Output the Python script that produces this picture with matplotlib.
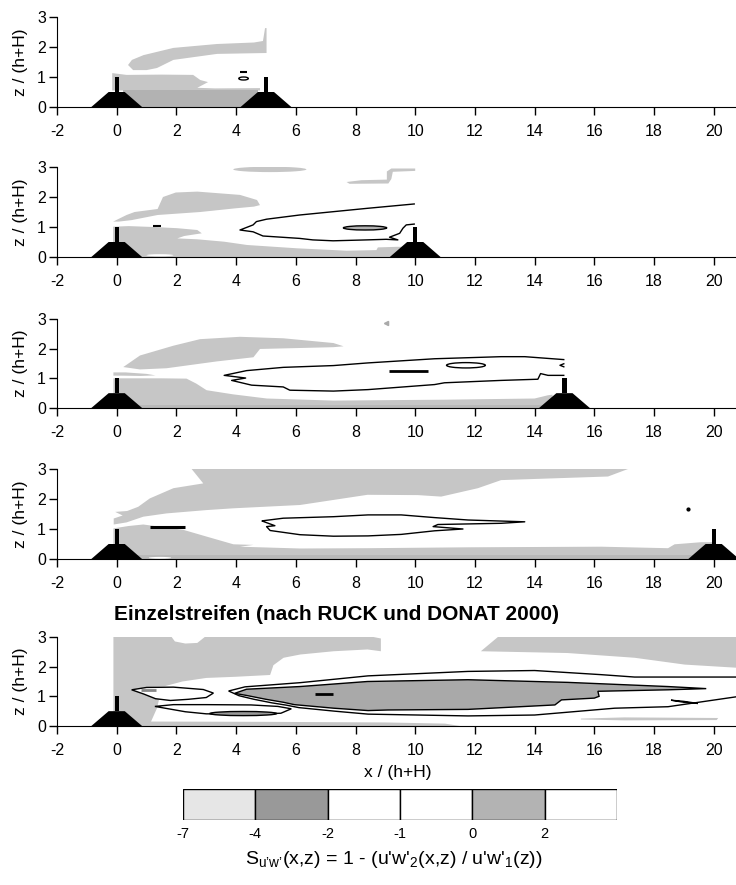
import matplotlib
matplotlib.use("Agg")
import matplotlib.pyplot as plt
from matplotlib.patches import Ellipse, Polygon

plt.rcParams['font.family'] = ['Liberation Sans', 'DejaVu Sans']
plt.rcParams['axes.unicode_minus'] = False
plt.rcParams['mathtext.fontset'] = 'custom'
plt.rcParams['mathtext.rm'] = 'Liberation Sans'

# ---------------- data ----------------
x_ticks = [-2, 0, 2, 4, 6, 8, 10, 12, 14, 16, 18, 20]
z_ticks = [0, 1, 2, 3]
building_pos = [[0, 5], [0, 10], [0, 15], [0, 20], [0]]
bld_x = [-0.85, -0.27, 0.27, 0.85]
bld_z = [0.0, 0.5, 0.5, 0.0]
pole_x = [-0.07, 0.07, 0.07, -0.07]
pole_z = [0.5, 0.5, 1.0, 1.0]

# Panel 1 (spacing 5)
p1_upper_x = [0.38, 0.51, 0.90, 1.90, 3.36, 4.60, 4.90, 4.97, 5.02, 5.02, 3.36, 1.90, 1.35, 1.00, 0.55]
p1_upper_z = [1.40, 1.57, 1.73, 1.97, 2.10, 2.15, 2.20, 2.63, 2.63, 1.80, 1.77, 1.57, 1.30, 1.23, 1.23]
p1_band_x = [-0.15, 0.33, 1.50, 2.56, 2.80, 3.06, 2.70, 3.30, 4.80, 4.80, -0.15]
p1_band_z = [1.13, 1.07, 1.08, 1.07, 0.90, 0.83, 0.64, 0.62, 0.63, 0.55, 0.55]
p1_dark_x = [0.20, 4.75, 4.75, 0.20]
p1_dark_z = [0.57, 0.57, 0.00, 0.00]
p1_loop = [4.25, 0.95, 0.32, 0.10]
p1_dash_x = [4.12, 4.35]
p1_dash_z = [1.17, 1.17]

# Panel 2 (spacing 10)
p2_upper_x = [-0.12, 0.33, 0.60, 1.37, 1.55, 1.98, 2.70, 4.13, 4.70, 4.80, 4.60, 3.95, 2.80, 1.37, 0.50, 0.07]
p2_upper_z = [1.18, 1.40, 1.50, 1.60, 2.00, 2.15, 2.18, 2.07, 1.90, 1.73, 1.68, 1.62, 1.50, 1.40, 1.23, 1.18]
p2_top_blob = [5.13, 2.92, 2.45, 0.18]
p2_topright_x = [7.70, 8.20, 9.05, 9.05, 9.20, 10.00, 10.00, 9.25, 9.20, 9.10, 7.80]
p2_topright_z = [2.50, 2.56, 2.58, 2.85, 2.95, 2.95, 2.87, 2.84, 2.60, 2.45, 2.44]
p2_band_x = [-0.12, 0.40, 1.23, 2.03, 2.70, 2.85, 2.26, 2.03, 2.70, 3.60, 4.37, 6.04, 7.70, 8.70, 8.75, 9.40, 10.0, 10.0, -0.12]
p2_band_z = [1.01, 1.03, 1.00, 0.96, 0.90, 0.79, 0.70, 0.62, 0.59, 0.51, 0.40, 0.29, 0.21, 0.23, 0.32, 0.34, 0.34, 0.00, 0.00]
p2_line_x = [9.99, 8.37, 7.25, 6.13, 5.02, 4.68, 4.57, 4.13, 4.57, 4.90, 6.13, 6.57, 7.25, 8.37, 9.03, 9.42, 9.14, 9.48, 9.59, 9.70, 9.99]
p2_line_z = [1.77, 1.62, 1.51, 1.40, 1.26, 1.18, 1.07, 0.90, 0.84, 0.70, 0.62, 0.57, 0.54, 0.57, 0.59, 0.57, 0.66, 0.79, 0.96, 1.07, 1.10]
p2_lens = [8.32, 0.97, 1.45, 0.14]
p2_dash_x = [1.20, 1.50]
p2_dash_z = [1.05, 1.05]
p2_white = [1.45, 0.06, 0.90, 0.07]

# Panel 3 (spacing 15)
p3_upper_x = [0.22, 0.78, 1.90, 2.79, 4.13, 5.58, 7.26, 7.60, 7.26, 4.80, 4.58, 3.35, 1.67, 0.78]
p3_upper_z = [1.38, 1.77, 2.10, 2.32, 2.40, 2.35, 2.19, 2.08, 2.05, 1.99, 1.71, 1.57, 1.34, 1.30]
p3_tongue_x = [-0.11, 0.30, 1.00, 1.30, 0.80, 0.20, -0.11]
p3_tongue_z = [1.20, 1.20, 1.15, 1.10, 1.08, 1.09, 1.09]
p3_band_x = [-0.11, 0.50, 1.50, 2.34, 2.67, 3.01, 3.90, 5.03, 7.26, 8.42, 11.0, 14.0, 14.45, 14.6, 14.6, -0.11]
p3_band_z = [1.00, 1.00, 1.00, 0.99, 0.82, 0.60, 0.46, 0.32, 0.25, 0.26, 0.28, 0.32, 0.43, 0.45, 0.00, 0.00]
p3_strip_x = [-0.11, 14.5, 14.5, -0.11]
p3_strip_z = [0.10, 0.10, 0.00, 0.00]
p3_line_x = [15.0, 13.67, 12.88, 10.65, 8.42, 7.26, 5.58, 4.35, 3.60, 4.32, 3.85, 4.52, 5.58, 5.80, 7.26, 8.42, 10.65, 10.98, 12.88, 14.11, 14.20, 14.45, 15.0]
p3_line_z = [1.63, 1.73, 1.73, 1.66, 1.52, 1.43, 1.37, 1.26, 1.10, 1.01, 0.93, 0.77, 0.71, 0.60, 0.57, 0.62, 0.79, 0.85, 0.93, 0.97, 1.16, 1.10, 1.10]
p3_loop = [11.7, 1.44, 1.30, 0.18]
p3_dash_x = [9.13, 10.42]
p3_dash_z = [1.24, 1.24]
p3_hook_x = [15.0, 14.85, 15.0]
p3_hook_z = [1.50, 1.44, 1.38]
p3_speck = [9.02, 2.88]

# Panel 4 (spacing 20)
p4_upper_x = [2.51, 17.13, 16.46, 12.88, 12.10, 10.87, 10.09, 8.40, 6.14, 3.91, 3.00, 1.67, 0.89, 0.33, -0.10, -0.10, 0.20, -0.05, 0.35, 0.72, 1.11, 1.90, 2.90]
p4_upper_z = [3.00, 3.00, 2.75, 2.63, 2.36, 2.08, 2.13, 2.14, 1.80, 1.69, 1.63, 1.52, 1.41, 1.22, 1.15, 1.35, 1.45, 1.57, 1.60, 1.74, 2.02, 2.36, 2.52]
p4_band_x = [-0.11, 0.40, 0.89, 2.24, 3.00, 3.91, 4.58, 4.13, 6.14, 8.40, 11.77, 16.24, 18.47, 18.69, 19.58, 20.0, 20.0, -0.11]
p4_band_z = [1.02, 1.10, 1.15, 0.97, 0.75, 0.49, 0.47, 0.41, 0.35, 0.36, 0.39, 0.41, 0.36, 0.49, 0.56, 0.56, 0.00, 0.00]
p4_strip_x = [-0.11, 19.5, 19.5, -0.11]
p4_strip_z = [0.12, 0.12, 0.00, 0.00]
p4_line_x = [4.86, 5.58, 7.26, 8.42, 9.53, 10.65, 11.77, 13.67, 12.88, 10.76, 10.60, 11.60, 10.65, 9.53, 8.42, 7.26, 6.14, 5.14, 5.02, 5.30, 4.86]
p4_line_z = [1.27, 1.36, 1.41, 1.47, 1.47, 1.38, 1.30, 1.24, 1.19, 1.15, 1.08, 1.00, 0.94, 0.82, 0.77, 0.76, 0.81, 0.95, 1.08, 1.11, 1.27]
p4_dash_x = [1.12, 2.29]
p4_dash_z = [1.06, 1.06]
p4_dot = [19.14, 1.67]
p4_white = [1.45, 0.04, 0.75, 0.06]

# Panel 5 (single row, RUCK & DONAT 2000)
p5_left_x = [-0.11, 1.84, 1.95, 2.30, 2.70, 2.95, 8.60, 8.85, 8.85, 8.40, 7.27, 6.15, 5.59, 5.25, 5.14, 4.00, 3.00, 2.20, 1.60, 1.00, 0.50, 0.90, 1.30, 1.42, 1.35, 1.15, 5.00, 9.00, 11.0, 11.5, -0.11]
p5_left_z = [3.00, 3.00, 2.85, 2.78, 2.80, 3.00, 3.00, 2.95, 2.52, 2.58, 2.52, 2.41, 2.30, 2.05, 1.72, 1.66, 1.62, 1.50, 1.34, 1.31, 1.22, 1.08, 0.92, 0.90, 0.60, 0.15, 0.14, 0.12, 0.08, 0.00, 0.00]
p5_right_x = [12.77, 21.0, 21.0, 19.03, 17.35, 15.10, 12.20]
p5_right_z = [3.00, 3.00, 1.95, 2.07, 2.30, 2.46, 2.52]
p5_bottom_x = [15.55, 17.0, 20.15, 20.10, 17.0, 15.55]
p5_bottom_z = [0.25, 0.29, 0.27, 0.20, 0.19, 0.22]
p5_fill_x = [3.95, 4.35, 6.14, 8.40, 11.77, 15.12, 18.47, 19.75, 18.47, 16.12, 16.16, 16.00, 14.90, 14.68, 11.77, 9.09, 8.42, 7.27, 5.95, 5.58, 5.00, 4.35, 3.95]
p5_fill_z = [1.10, 1.24, 1.33, 1.50, 1.56, 1.47, 1.33, 1.26, 1.22, 1.17, 1.00, 0.94, 0.88, 0.71, 0.56, 0.54, 0.52, 0.60, 0.72, 0.80, 0.90, 1.03, 1.10]
p5_outer_top_x = [3.75, 4.30, 6.14, 8.42, 11.77, 14.00, 16.24, 17.35, 21.0]
p5_outer_top_z = [1.18, 1.32, 1.46, 1.69, 1.84, 1.87, 1.73, 1.65, 1.65]
p5_outer_bot_x = [3.75, 4.10, 4.60, 5.20, 5.70, 6.10, 7.30, 8.42, 11.77, 14.00, 16.68, 18.47, 21.0]
p5_outer_bot_z = [1.18, 1.02, 0.90, 0.78, 0.70, 0.62, 0.50, 0.40, 0.34, 0.37, 0.60, 0.65, 1.02]
p5_tongue_x = [0.50, 1.00, 1.90, 2.90, 3.24, 3.00, 2.40, 1.80, 1.30, 0.90, 0.50]
p5_tongue_z = [1.22, 1.30, 1.31, 1.23, 1.11, 0.96, 0.90, 0.86, 0.92, 1.08, 1.22]
p5_loop_x = [1.28, 1.90, 3.00, 4.50, 5.40, 5.85, 5.50, 4.50, 3.00, 2.30, 1.28]
p5_loop_z = [0.66, 0.72, 0.72, 0.71, 0.66, 0.58, 0.43, 0.40, 0.41, 0.48, 0.66]
p5_core = [4.24, 0.42, 2.24, 0.14]
p5_dash_x = [6.64, 7.26]
p5_dash_z = [1.08, 1.08]
p5_lens_x = [0.82, 1.30]
p5_lens_z = [1.20, 1.20]
p5_sliver_x = [18.57, 19.00, 19.47, 19.00, 18.57]
p5_sliver_z = [0.87, 0.83, 0.76, 0.80, 0.87]

cb_labels = ['-7', '-4', '-2', '-1', '0', '2']
cb_colors = ['#e6e6e6', '#999999', '#ffffff', '#ffffff', '#b3b3b3', '#ffffff']

LIGHT = '#c6c6c6'
MID = '#b2b2b2'
DARK = '#a9a9a9'

# ---------------- figure ----------------
W, H = 736, 885
fig = plt.figure(figsize=(W / 100, H / 100), dpi=100)

x0_px = 57
px_per_x = 29.85
xmax = 21.0
ax_w_px = (xmax + 2) * px_per_x
panels_px = [(17, 107), (167, 257), (319, 408), (469, 559), (637, 726)]


def make_ax(top, bot):
    ax = fig.add_axes([x0_px / W, 1 - bot / H, ax_w_px / W, (bot - top) / H])
    ax.set_xlim(-2, xmax)
    ax.set_ylim(0, 3)
    for s in ['top', 'right']:
        ax.spines[s].set_visible(False)
    ax.spines['left'].set_bounds(0, 3)
    ax.spines['bottom'].set_bounds(-2, xmax)
    ax.set_xticks(x_ticks)
    ax.set_yticks(z_ticks)
    ax.tick_params(axis='x', direction='out', length=6, width=1, pad=6, labelsize=11.5)
    ax.tick_params(axis='y', direction='out', length=6, width=1, pad=2, labelsize=11.5)
    ax.set_ylabel('z / (h+H)', fontsize=12.5)
    ax.yaxis.set_label_coords(-(x0_px - 28) / ax_w_px, 0.5)
    ax.patch.set_alpha(0)
    return ax


def fill(ax, xs, zs, color, edge=None, lw=0.9, z=1):
    ax.add_patch(Polygon(list(zip(xs, zs)), closed=True, facecolor=color,
                         edgecolor=edge if edge else 'none', lw=lw, zorder=z))


def ell(ax, spec, color, edge=None, lw=0.9, z=2):
    ax.add_patch(Ellipse((spec[0], spec[1]), spec[2], spec[3], facecolor=color,
                         edgecolor=edge if edge else 'none', lw=lw, zorder=z))


def line(ax, xs, zs, lw=1.0, color='black', z=3):
    ax.plot(xs, zs, color=color, lw=lw, zorder=z, solid_capstyle='butt')


def buildings(ax, positions):
    for p in positions:
        ax.fill([p + v for v in bld_x], bld_z, color='black', zorder=5, lw=0)
        ax.fill([p + v for v in pole_x], pole_z, color='black', zorder=5, lw=0)


axes = [make_ax(t, b) for t, b in panels_px]

# Panel 1
ax = axes[0]
fill(ax, p1_upper_x, p1_upper_z, LIGHT)
fill(ax, p1_band_x, p1_band_z, LIGHT)
fill(ax, p1_dark_x, p1_dark_z, MID)
ell(ax, p1_loop, 'white', 'black', 1.0)
line(ax, p1_dash_x, p1_dash_z, lw=1.5)
buildings(ax, building_pos[0])

# Panel 2
ax = axes[1]
fill(ax, p2_upper_x, p2_upper_z, LIGHT)
ell(ax, p2_top_blob, LIGHT, z=1)
fill(ax, p2_topright_x, p2_topright_z, LIGHT)
fill(ax, p2_band_x, p2_band_z, LIGHT)
ell(ax, p2_white, 'white', z=1.5)
line(ax, p2_line_x, p2_line_z)
ell(ax, p2_lens, MID, 'black', 1.0)
line(ax, p2_dash_x, p2_dash_z, lw=1.5)
buildings(ax, building_pos[1])

# Panel 3
ax = axes[2]
fill(ax, p3_upper_x, p3_upper_z, LIGHT)
fill(ax, p3_tongue_x, p3_tongue_z, LIGHT)
fill(ax, p3_band_x, p3_band_z, LIGHT)
fill(ax, p3_strip_x, p3_strip_z, '#b8b8b8', z=1.2)
line(ax, p3_line_x, p3_line_z)
ell(ax, p3_loop, 'white', 'black', 1.0)
line(ax, p3_dash_x, p3_dash_z, lw=2.0)
line(ax, p3_hook_x, p3_hook_z)
ax.plot([p3_speck[0]], [p3_speck[1]], marker='<', ms=3, color='#aaaaaa', zorder=2)
buildings(ax, building_pos[2])

# Panel 4
ax = axes[3]
fill(ax, p4_upper_x, p4_upper_z, LIGHT)
fill(ax, p4_band_x, p4_band_z, LIGHT)
fill(ax, p4_strip_x, p4_strip_z, '#b8b8b8', z=1.2)
ell(ax, p4_white, 'white', z=1.5)
line(ax, p4_line_x, p4_line_z)
line(ax, p4_dash_x, p4_dash_z, lw=2.2)
ax.plot([p4_dot[0]], [p4_dot[1]], marker='o', ms=2, color='black', zorder=3)
buildings(ax, building_pos[3])

# Panel 5
ax = axes[4]
fill(ax, p5_left_x, p5_left_z, LIGHT)
fill(ax, p5_right_x, p5_right_z, LIGHT)
fill(ax, p5_bottom_x, p5_bottom_z, LIGHT)
fill(ax, p5_tongue_x, p5_tongue_z, 'white', 'black', 1.0, z=2)
fill(ax, p5_fill_x, p5_fill_z, DARK, 'black', 1.0, z=2)
line(ax, p5_outer_top_x, p5_outer_top_z)
line(ax, p5_outer_bot_x, p5_outer_bot_z)
fill(ax, p5_loop_x, p5_loop_z, 'white', 'black', 1.0, z=2)
ell(ax, p5_core, '#999999', 'black', 1.0, z=3)
line(ax, p5_dash_x, p5_dash_z, lw=2.0)
line(ax, p5_lens_x, p5_lens_z, lw=2.0, color='#888888')
fill(ax, p5_sliver_x, p5_sliver_z, 'white', 'black', 1.0, z=2)
buildings(ax, building_pos[4])

fig.text(336 / W, 1 - 615 / H, 'Einzelstreifen (nach RUCK und DONAT 2000)',
         ha='center', va='center', fontsize=15, fontweight='bold')
fig.text(398 / W, 1 - 773 / H, 'x / (h+H)', ha='center', va='center', fontsize=12.5)

# colour key
cb_left, cb_right, cb_top, cb_bot = 183, 617, 789, 820
cax = fig.add_axes([cb_left / W, 1 - cb_bot / H, (cb_right - cb_left) / W, (cb_bot - cb_top) / H])
n = len(cb_colors)
cax.bar(range(n), [1] * n, width=1.0, align='edge', color=cb_colors, edgecolor='black', lw=1.0)
cax.set_xlim(0, n)
cax.set_ylim(0, 1)
cax.axis('off')
for i, lab in enumerate(cb_labels):
    fig.text((cb_left + i * (cb_right - cb_left) / n) / W, 1 - 834 / H, lab,
             ha='center', va='center', fontsize=10.5)

fig.text(394 / W, 1 - 859 / H,
         "S$_{\\mathregular{u\u2019w\u2019}}$(x,z) = 1 - (u'w'$_{\\mathregular{2}}$(x,z) / u'w'$_{\\mathregular{1}}$(z))",
         ha='center', va='center', fontsize=14)

fig.savefig('out.png', dpi=100)
